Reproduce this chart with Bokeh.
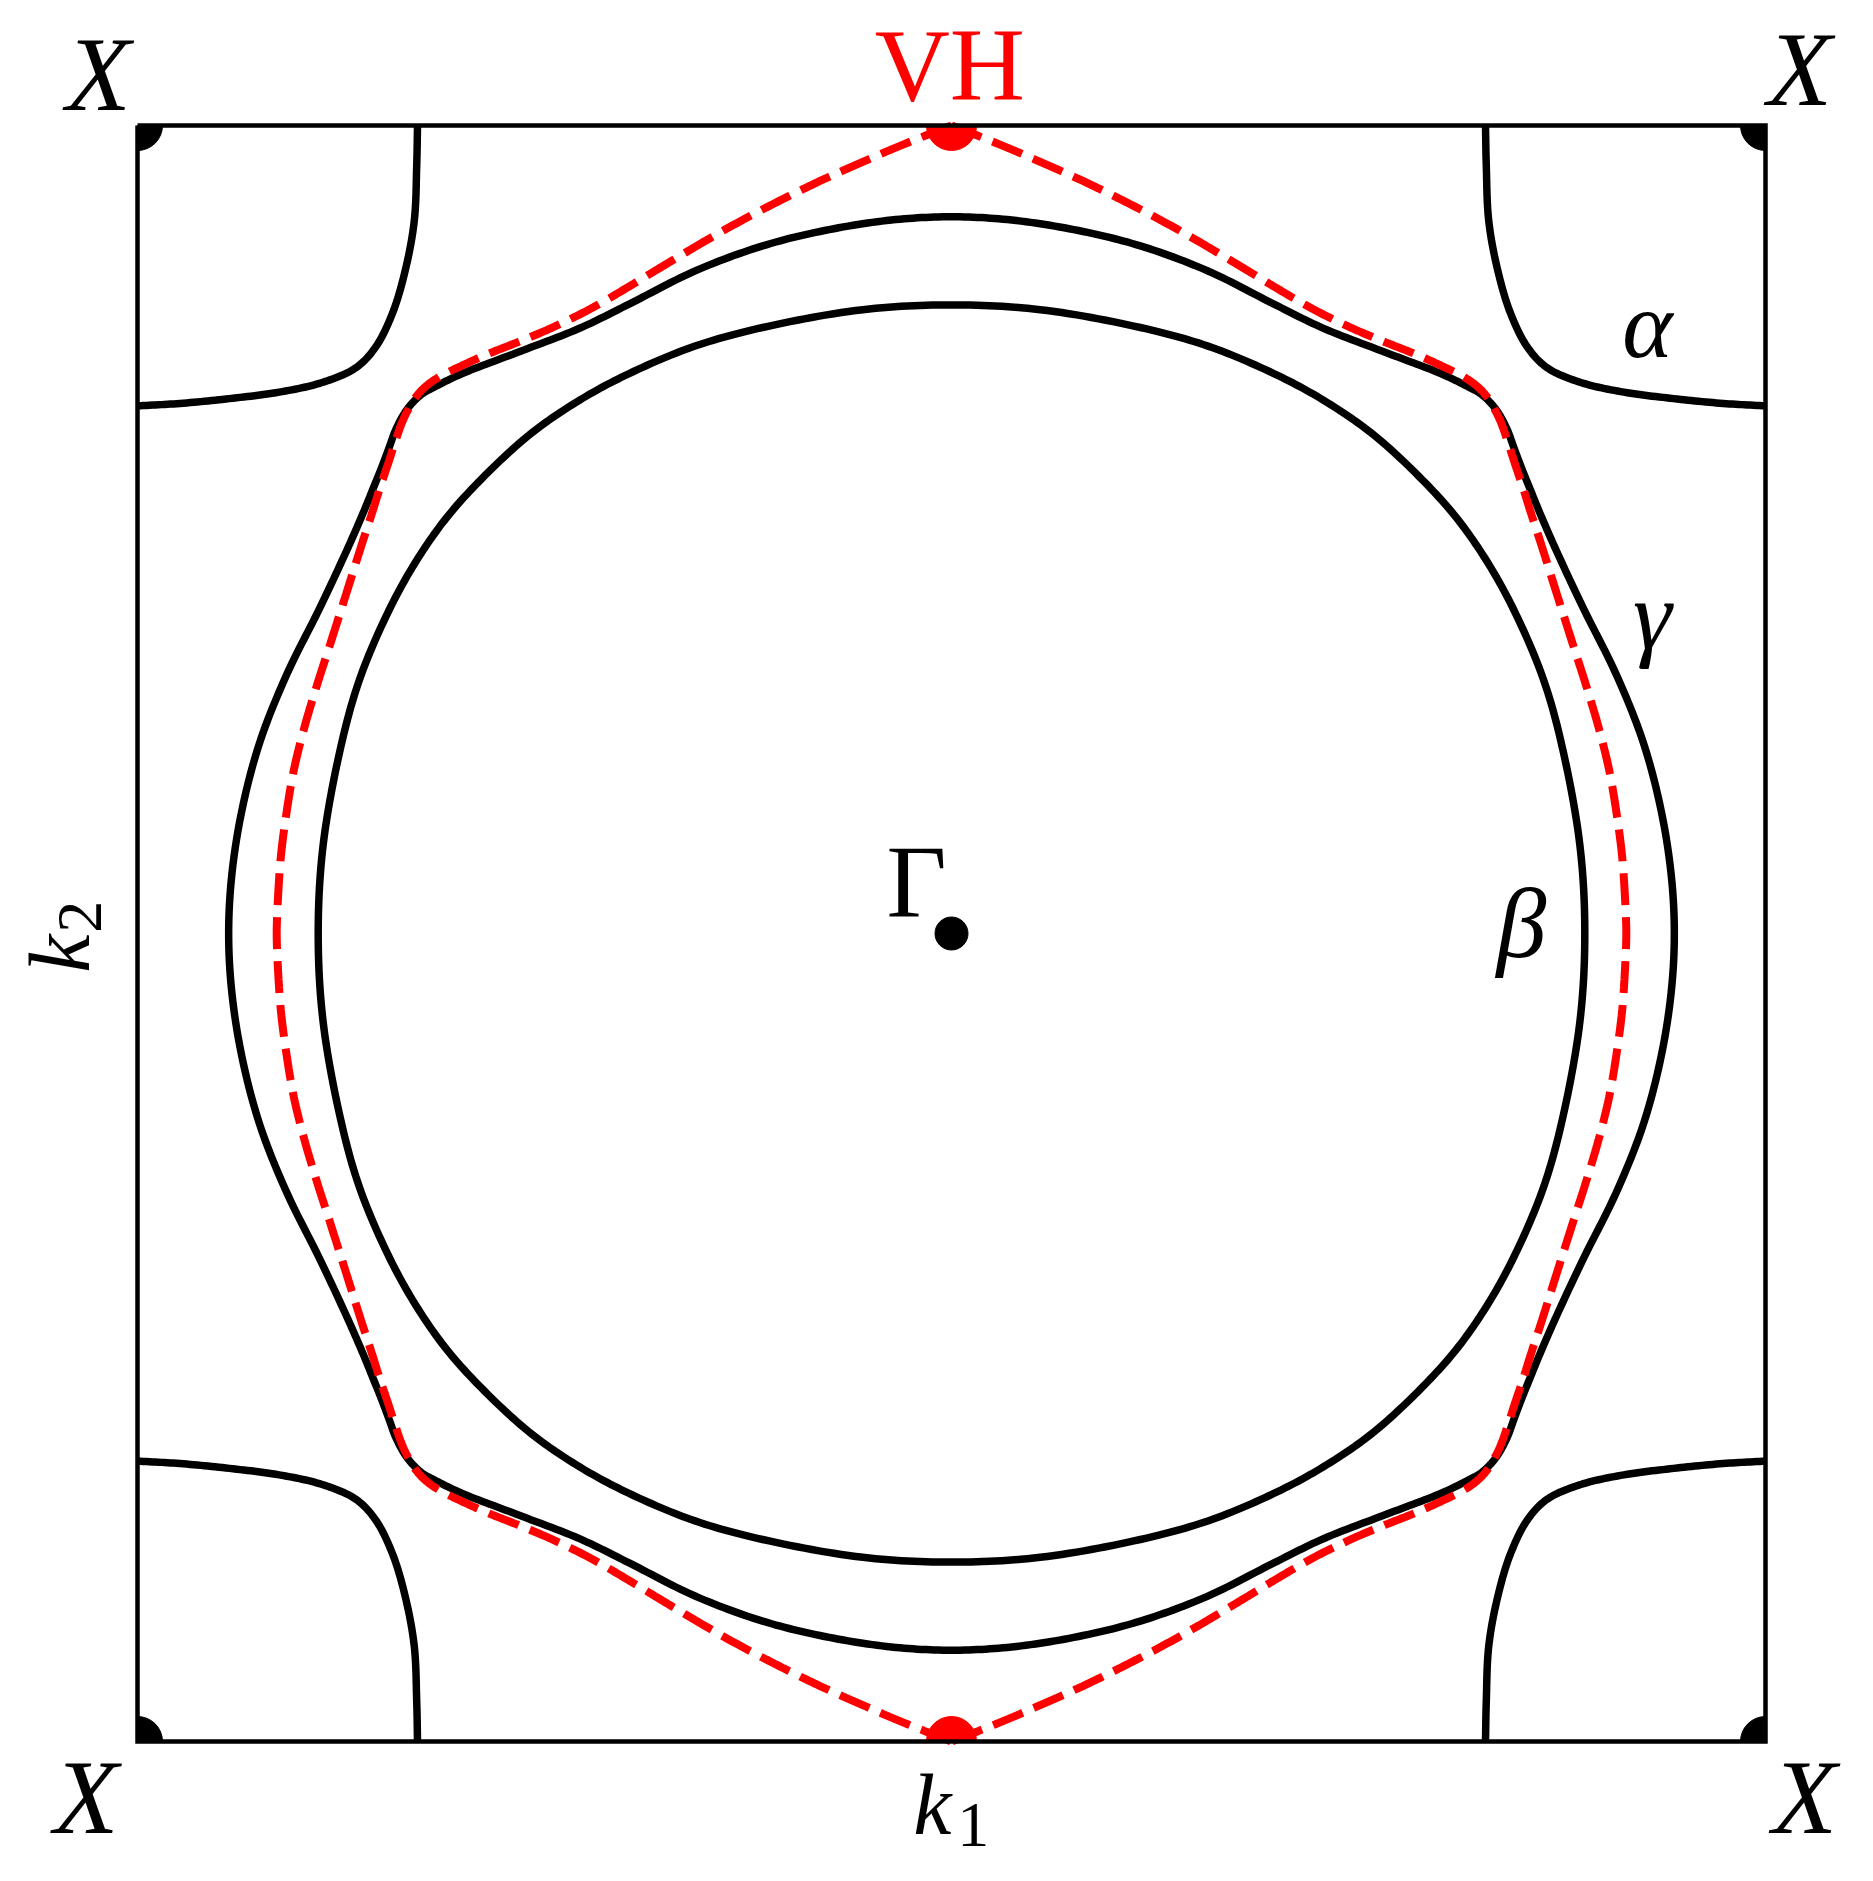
import numpy as np
from bokeh.plotting import figure
from bokeh.models import Label
from bokeh.embed import file_html
from bokeh.resources import INLINE

# ---- Fermi-surface readings, first quadrant (k1 >= 0, k2 >= 0), zone edge = 1 ----
beta_k1 = [0.000, 0.109, 0.232, 0.315, 0.396, 0.457, 0.515, 0.570, 0.620, 0.660,
           0.693, 0.727, 0.750, 0.772, 0.778]
beta_k2 = [0.778, 0.772, 0.750, 0.727, 0.693, 0.660, 0.620, 0.570, 0.515, 0.457,
           0.396, 0.315, 0.232, 0.109, 0.000]

gamma_k1 = [0.000, 0.074, 0.156, 0.232, 0.315, 0.396, 0.457, 0.539, 0.601, 0.634,
            0.650, 0.662, 0.672, 0.683, 0.691, 0.700, 0.710, 0.723, 0.743, 0.776,
            0.816, 0.849, 0.871, 0.884, 0.888]
gamma_k2 = [0.887, 0.883, 0.870, 0.851, 0.820, 0.779, 0.749, 0.717, 0.693, 0.677,
            0.668, 0.657, 0.644, 0.623, 0.601, 0.577, 0.552, 0.520, 0.474, 0.403,
            0.322, 0.239, 0.156, 0.074, 0.000]

vh_k1 = [0.000, 0.058, 0.109, 0.158, 0.207, 0.255, 0.301, 0.348, 0.394, 0.440,
         0.488, 0.530, 0.570, 0.601, 0.629, 0.646, 0.658, 0.666, 0.674, 0.683,
         0.691, 0.702, 0.712, 0.724, 0.745, 0.763, 0.779, 0.795, 0.808, 0.817,
         0.824, 0.828, 0.829]
vh_k2 = [1.000, 0.977, 0.955, 0.933, 0.909, 0.884, 0.858, 0.830, 0.802, 0.775,
         0.751, 0.733, 0.717, 0.703, 0.689, 0.677, 0.664, 0.651, 0.635, 0.610,
         0.585, 0.552, 0.520, 0.483, 0.416, 0.359, 0.309, 0.255, 0.202, 0.149,
         0.094, 0.032, 0.000]

alpha_k1 = [0.656, 0.657, 0.660, 0.671, 0.687, 0.708, 0.732, 0.773, 0.826, 0.887,
            0.948, 1.000]
alpha_k2 = [1.000, 0.950, 0.882, 0.821, 0.767, 0.725, 0.700, 0.682, 0.670, 0.662,
            0.656, 0.653]

# ---- special points ----
gamma_pt_k1 = [0.0]
gamma_pt_k2 = [0.0]
vh_pt_k1 = [0.0, 0.0]
vh_pt_k2 = [1.0, -1.0]
x_pt_k1 = [-1.0, 1.0, 1.0, -1.0]      # TL, TR, BR, BL zone corners
x_pt_k2 = [1.0, 1.0, -1.0, -1.0]

PXX, PXY = 814.0, 808.0   # pixels per unit along k1, k2


def spline(px, py, closed, n=14):
    """Centripetal Catmull-Rom path through the read points (drawing only)."""
    S = np.array([PXX, PXY])
    Q = np.column_stack([px, py]).astype(float) * S
    if closed:
        ext = np.vstack([Q[-1], Q, Q[0], Q[1]])
    else:
        ext = np.vstack([2 * Q[0] - Q[1], Q, 2 * Q[-1] - Q[-2]])
    out = []
    for i in range(len(ext) - 3):
        p0, p1, p2, p3 = ext[i:i + 4]
        t0 = 0.0
        t1 = t0 + max(np.linalg.norm(p1 - p0), 1e-6) ** 0.5
        t2 = t1 + max(np.linalg.norm(p2 - p1), 1e-6) ** 0.5
        t3 = t2 + max(np.linalg.norm(p3 - p2), 1e-6) ** 0.5
        t = np.linspace(t1, t2, n, endpoint=False)[:, None]
        A1 = (t1 - t) / (t1 - t0) * p0 + (t - t0) / (t1 - t0) * p1
        A2 = (t2 - t) / (t2 - t1) * p1 + (t - t1) / (t2 - t1) * p2
        A3 = (t3 - t) / (t3 - t2) * p2 + (t - t2) / (t3 - t2) * p3
        B1 = (t2 - t) / (t2 - t0) * A1 + (t - t0) / (t2 - t0) * A2
        B2 = (t3 - t) / (t3 - t1) * A2 + (t - t1) / (t3 - t1) * A3
        out.append((t2 - t) / (t2 - t1) * B1 + (t - t1) / (t2 - t1) * B2)
    out = np.vstack(out + [Q[0] if closed else Q[-1]]) / S
    return out[:, 0], out[:, 1]


def ring(qx, qy):
    qx = np.asarray(qx, float)
    qy = np.asarray(qy, float)
    x = np.concatenate([qx, qx[::-1][1:], -qx[1:], -qx[::-1][1:-1]])
    y = np.concatenate([qy, -qy[::-1][1:], -qy[1:], qy[::-1][1:-1]])
    return x, y


W, H = 1860, 1870
x0 = -951.0 / PXX
y1 = 933.0 / PXY
p = figure(frame_width=W, frame_height=H, min_border=0,
           min_border_left=0, min_border_right=0, min_border_top=0, min_border_bottom=0,
           x_range=(x0, x0 + W / PXX), y_range=(y1 - H / PXY, y1),
           x_axis_location=None, y_axis_location=None,
           toolbar_location=None, output_backend="svg")
p.grid.visible = False
p.background_fill_color = "white"
p.border_fill_color = "white"
p.outline_line_color = None

LW = 7.5
# alpha pockets at the four corners
for sx, sy in [(1, 1), (-1, 1), (1, -1), (-1, -1)]:
    ax, ay = spline(sx * np.asarray(alpha_k1), sy * np.asarray(alpha_k2), closed=False)
    p.line(ax, ay, line_color="black", line_width=LW, line_join="round")

bx, by = spline(*ring(beta_k1, beta_k2), closed=True)
p.line(bx, by, line_color="black", line_width=LW, line_join="round")
gx, gy = spline(*ring(gamma_k1, gamma_k2), closed=True)
p.line(gx, gy, line_color="black", line_width=LW, line_join="round")

# van Hove contour: two halves meeting at the VH points
vq1 = np.asarray(vh_k1, float)
vq2 = np.asarray(vh_k2, float)
hx = np.concatenate([vq1, vq1[::-1][1:]])
hy = np.concatenate([vq2, -vq2[::-1][1:]])
for s in (1, -1):
    vx, vy = spline(s * hx, hy, closed=False)
    p.line(vx, vy, line_color="red", line_width=8, line_dash="32 12")

# corner (X) quarter discs and VH half discs
p.wedge(x_pt_k1, x_pt_k2, radius=25, radius_units="screen",
        start_angle=[-np.pi / 2, np.pi, np.pi / 2, 0.0],
        end_angle=[0.0, 1.5 * np.pi, np.pi, np.pi / 2], color="black")
p.wedge(vh_pt_k1, vh_pt_k2, radius=25, radius_units="screen",
        start_angle=[np.pi, 0.0], end_angle=[2 * np.pi, np.pi], color="red")
p.scatter(gamma_pt_k1, gamma_pt_k2, size=33, color="black")

# zone boundary
p.line(x_pt_k1 + x_pt_k1[:1], x_pt_k2 + x_pt_k2[:1], line_color="black",
       line_width=4.5, line_join="miter")

FONT = "Liberation Serif"


def lab(text, x, y, size, style="normal", color="black", align="center", angle=0.0):
    off = 0.33 * size
    if angle == 0.0:
        y = y + off / PXY
    else:
        x = x - off / PXX
    p.add_layout(Label(x=x, y=y, text=text, text_font=FONT, text_font_size=f"{size}px",
                       text_font_style=style, text_color=color, text_align=align,
                       text_baseline="alphabetic", angle=angle))


lab("X", -1.048, 1.020, 106, "italic")
lab("X", 1.042, 1.026, 106, "italic")
lab("X", -1.063, -1.113, 106, "italic")
lab("X", 1.048, -1.113, 106, "italic")
lab("VH", -0.002, 1.033, 104, color="red")
lab("Γ", -0.043, 0.022, 104)
lab("α", 0.855, 0.715, 96, "italic")
lab("γ", 0.861, 0.354, 98, "italic")
lab("β", 0.700, -0.028, 100, "italic")
# k1
lab("k", -0.047, -1.114, 86, "italic", align="left")
lab("1", 0.007, -1.129, 64, align="left")
# k2 (rotated)
lab("k", -1.060, -0.0485, 86, "italic", align="left", angle=np.pi / 2)
lab("2", -1.045, 0.001, 64, align="left", angle=np.pi / 2)

open("out.html", "w").write(file_html(p, INLINE))
